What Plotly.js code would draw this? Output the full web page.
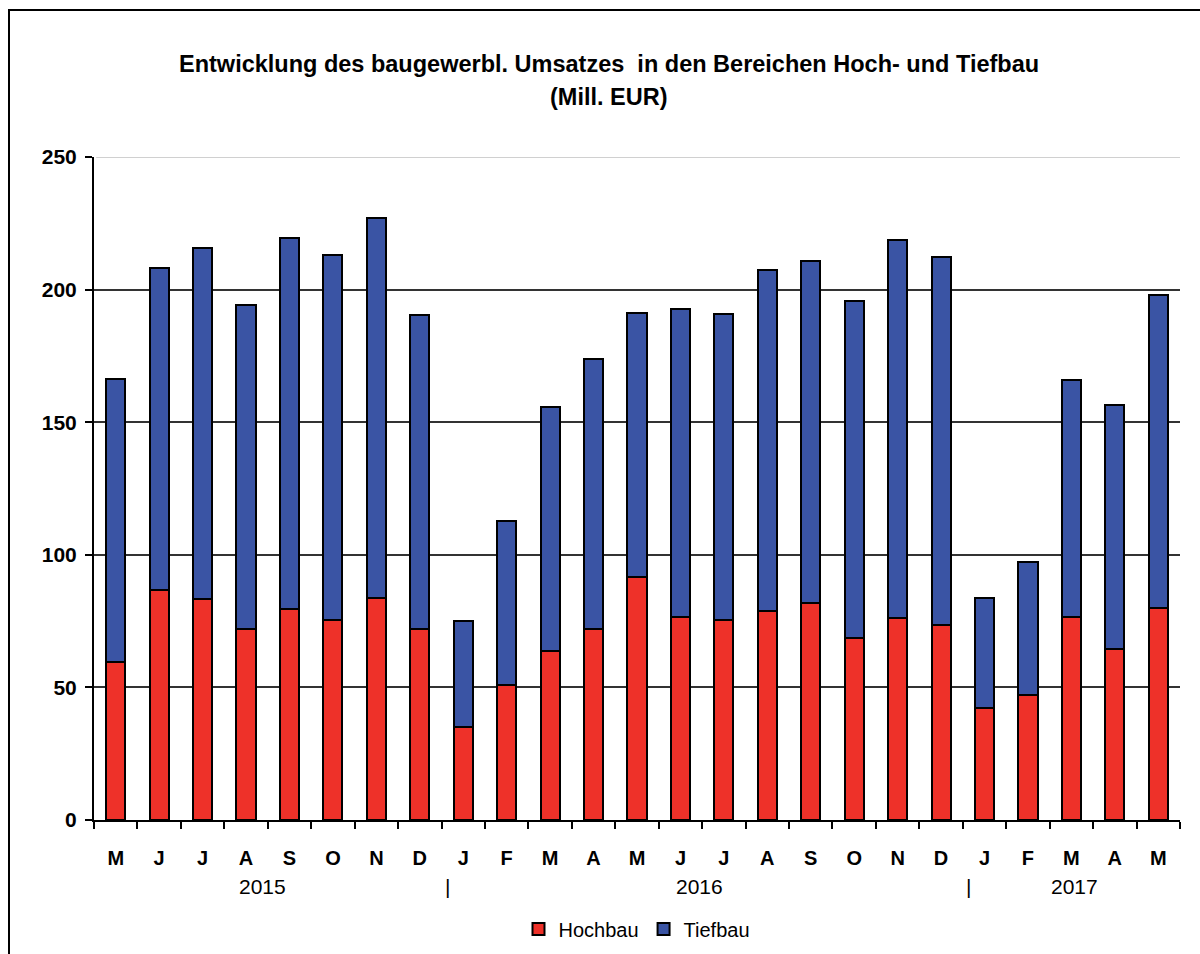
<!DOCTYPE html>
<html>
<head>
<meta charset="utf-8">
<script src="https://cdn.plot.ly/plotly-3.0.1.min.js"></script>
<style>
  html, body { margin: 0; padding: 0; background: #fff; overflow: hidden; }
  #frame { position: absolute; left: 8px; top: 9px; width: 1210px; height: 970px; border: 2px solid #000; box-sizing: border-box; pointer-events: none; z-index: 5; }
  #chart { position: absolute; left: 0; top: 0; width: 1200px; height: 954px; }
</style>
</head>
<body>
<div id="chart"></div>
<div id="frame"></div>
<script>
const months = ['M','J','J','A','S','O','N','D','J','F','M','A','M','J','J','A','S','O','N','D','J','F','M','A','M'];
const hochbau = [59.4, 86.7, 83.2, 71.9, 79.4, 75.3, 83.6, 72.1, 35.2, 50.8, 63.7, 71.9, 91.6, 76.4, 75.4, 78.9, 81.8, 68.5, 76.0, 73.5, 42.3, 47.0, 76.6, 64.3, 80.0];
const tiefbau = [106.8, 121.6, 132.3, 122.2, 140.0, 137.8, 143.4, 118.2, 39.8, 61.8, 92.1, 101.9, 99.5, 116.3, 115.3, 128.5, 129.0, 127.3, 142.7, 138.8, 41.5, 50.2, 89.3, 92.1, 117.9];
const yearLabels = ['2015', '|', '2016', '|', '2017'];
const yearPos = [3.37, 7.63, 13.45, 19.64, 22.08];
const yTicks = [0, 50, 100, 150, 200, 250];

const idx = months.map((_, i) => i);
const FONT = 'Liberation Sans, Arial, sans-serif';

const traces = [
  { type: 'bar', name: 'Hochbau', x: idx, y: hochbau,
    marker: { color: '#EE3129', line: { color: '#000', width: 2 } } },
  { type: 'bar', name: 'Tiefbau', x: idx, y: tiefbau,
    marker: { color: '#3A54A4', line: { color: '#000', width: 2 } } }
];

const annotations = [
  { text: '<b>Entwicklung des baugewerbl. Umsatzes  in den Bereichen Hoch- und Tiefbau</b>',
    xref: 'paper', yref: 'paper', x: (609 - 94) / 1086, y: (820 - 64) / 663,
    xanchor: 'center', yanchor: 'middle', showarrow: false, font: { size: 23.5, family: FONT, color: '#000' } },
  { text: '<b>(Mill. EUR)</b>',
    xref: 'paper', yref: 'paper', x: (609 - 94) / 1086, y: (820 - 97) / 663,
    xanchor: 'center', yanchor: 'middle', showarrow: false, font: { size: 23.5, family: FONT, color: '#000' } }
];
yearLabels.forEach((t, i) => {
  annotations.push({ text: t, xref: 'x', yref: 'paper', x: yearPos[i], y: (820 - 886) / 663,
    xanchor: 'center', yanchor: 'middle', showarrow: false, font: { size: 21, family: FONT, color: '#000' } });
});

const layout = {
  width: 1200, height: 954,
  margin: { l: 94, r: 20, t: 157, b: 134, autoexpand: false },
  paper_bgcolor: '#fff', plot_bgcolor: '#fff',
  barmode: 'stack', bargap: 0.56,
  showlegend: true,
  legend: { orientation: 'h', x: 0.5, xanchor: 'center', y: (820 - 929) / 663, yanchor: 'middle',
    font: { size: 20, family: FONT, color: '#000' }, itemwidth: 30, traceorder: 'normal' },
  xaxis: {
    range: [-0.5, 24.5], tickvals: idx, ticktext: months, ticks: '', automargin: false,
    tickfont: { size: 20, family: FONT, color: '#000', weight: 'bold' },
    ticklabelstandoff: 19,
    showline: true, linecolor: '#000', linewidth: 2, showgrid: false, zeroline: false,
    minor: { ticks: 'outside', tick0: 0.5, dtick: 1, ticklen: 7, tickwidth: 2, tickcolor: '#000', showgrid: false },
    fixedrange: true
  },
  yaxis: {
    range: [0, 250], tickvals: yTicks, ticks: 'outside', ticklen: 7, tickwidth: 2, tickcolor: '#000',
    automargin: false,
    tickfont: { size: 21, family: FONT, color: '#000', weight: 'bold' },
    ticklabelstandoff: 4,
    showline: true, linecolor: '#000', linewidth: 2,
    showgrid: true, gridcolor: '#333', gridwidth: 2, zeroline: false, fixedrange: true
  },
  shapes: [
    { type: 'line', xref: 'paper', yref: 'y', x0: 0.002, x1: 1, y0: 250, y1: 250,
      line: { color: '#d0d0d0', width: 2 }, layer: 'above' }
  ],
  annotations: annotations
};

Plotly.newPlot('chart', traces, layout, { displayModeBar: false, staticPlot: true });
</script>
</body>
</html>
